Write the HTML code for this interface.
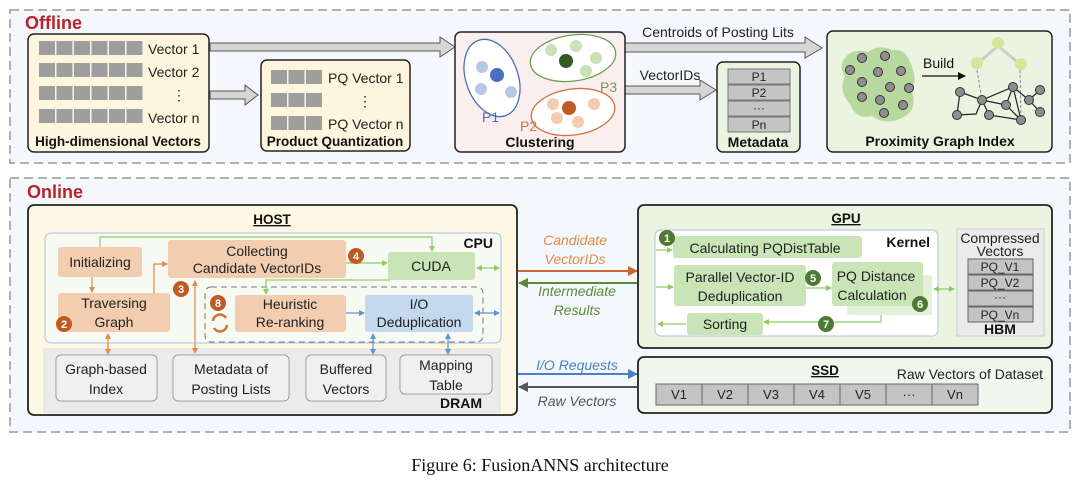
<!DOCTYPE html>
<html><head><meta charset="utf-8"><style>
html,body{margin:0;padding:0;background:#fff;width:1080px;height:488px;overflow:hidden}
svg{display:block;font-family:"Liberation Sans",sans-serif}
</style></head><body>
<svg width="1080" height="488" viewBox="0 0 1080 488" xmlns="http://www.w3.org/2000/svg">
<defs>
<marker id="ao" markerWidth="6" markerHeight="6" refX="5" refY="3" orient="auto-start-reverse" markerUnits="userSpaceOnUse"><path d="M0,0 L6,3 L0,6z" fill="#e08a4c"/></marker>
<marker id="ag" markerWidth="6" markerHeight="6" refX="5" refY="3" orient="auto-start-reverse" markerUnits="userSpaceOnUse"><path d="M0,0 L6,3 L0,6z" fill="#8fcc66"/></marker>
<marker id="ab" markerWidth="6" markerHeight="6" refX="5" refY="3" orient="auto-start-reverse" markerUnits="userSpaceOnUse"><path d="M0,0 L6,3 L0,6z" fill="#5b93d6"/></marker>
<marker id="AO" markerWidth="10" markerHeight="10" refX="9" refY="5" orient="auto-start-reverse" markerUnits="userSpaceOnUse"><path d="M0,0 L10,5 L0,10z" fill="#c9672c"/></marker>
<marker id="AG" markerWidth="10" markerHeight="10" refX="9" refY="5" orient="auto-start-reverse" markerUnits="userSpaceOnUse"><path d="M0,0 L10,5 L0,10z" fill="#5b8a3a"/></marker>
<marker id="AB" markerWidth="10" markerHeight="10" refX="9" refY="5" orient="auto-start-reverse" markerUnits="userSpaceOnUse"><path d="M0,0 L10,5 L0,10z" fill="#4a7fc8"/></marker>
<marker id="AK" markerWidth="10" markerHeight="10" refX="9" refY="5" orient="auto-start-reverse" markerUnits="userSpaceOnUse"><path d="M0,0 L10,5 L0,10z" fill="#555"/></marker>
<marker id="Ak" markerWidth="8" markerHeight="8" refX="7" refY="4" orient="auto" markerUnits="userSpaceOnUse"><path d="M0,0 L8,4 L0,8z" fill="#111"/></marker>
</defs>

<rect x="10" y="10" width="1060" height="153" fill="#f4f8fc" stroke="#999" stroke-width="1.5" stroke-dasharray="9,5"/>
<text x="25" y="29" font-size="18" font-weight="bold" fill="#b8242a">Offline</text>

<g fill="#d6d6d6" stroke="#555" stroke-width="1">
<polygon points="210,43 440,43 440,37 455,47 440,57 440,51 210,51"/>
<polygon points="210,91 245,91 245,85 258,95 245,105 245,99 210,99"/>
<polygon points="625,43 805,43 805,37 822,48 805,58 805,52 625,52"/>
<polygon points="625,86 700,86 700,80 716,90 700,100 700,94 625,94"/>
</g>

<rect x="28" y="34" width="181" height="118" rx="6" fill="#fdf5de" stroke="#222" stroke-width="1.5"/>
<g fill="#9e9e9e">
<g id="r6"><rect x="39" y="41" width="16" height="14"/><rect x="56.5" y="41" width="16" height="14"/><rect x="74" y="41" width="16" height="14"/><rect x="91.5" y="41" width="16" height="14"/><rect x="109" y="41" width="16" height="14"/><rect x="126.5" y="41" width="16" height="14"/></g>
<use href="#r6" y="22"/><use href="#r6" y="45"/><use href="#r6" y="68"/>
</g>
<g font-size="14" fill="#222"><text x="148" y="54">Vector 1</text><text x="148" y="77">Vector 2</text><text x="172" y="100">⋮</text><text x="148" y="123">Vector n</text></g>
<text x="118" y="146" font-size="13.5" font-weight="bold" text-anchor="middle" fill="#111">High-dimensional Vectors</text>

<rect x="261" y="60" width="149" height="91" rx="6" fill="#fdf5de" stroke="#222" stroke-width="1.5"/>
<g fill="#9e9e9e">
<g id="r3"><rect x="271" y="70" width="16" height="14"/><rect x="288.5" y="70" width="16" height="14"/><rect x="306" y="70" width="16" height="14"/></g>
<use href="#r3" y="23"/><use href="#r3" y="46"/>
</g>
<g font-size="14" fill="#222"><text x="328" y="83">PQ Vector 1</text><text x="358" y="106">⋮</text><text x="328" y="129">PQ Vector n</text></g>
<text x="335" y="146" font-size="13.5" font-weight="bold" text-anchor="middle" fill="#111">Product Quantization</text>

<rect x="455" y="32" width="170" height="120" rx="6" fill="#fbeeee" stroke="#222" stroke-width="1.5"/>
<ellipse cx="492" cy="78" rx="26" ry="40" transform="rotate(-20 492 78)" fill="#fff" stroke="#4a6fb8" stroke-width="1.3"/>
<g fill="#b7c7e6"><circle cx="482" cy="67" r="6"/><circle cx="481" cy="89" r="6"/><circle cx="511" cy="92" r="6"/></g><circle cx="497" cy="75" r="7" fill="#4a70c2"/>
<ellipse cx="573" cy="58" rx="43" ry="23" transform="rotate(-8 573 58)" fill="#fff" stroke="#6aa04a" stroke-width="1.3"/>
<g fill="#c8e2b6"><circle cx="551" cy="50" r="6"/><circle cx="576" cy="46" r="6"/><circle cx="596" cy="58" r="6"/><circle cx="586" cy="71" r="6"/></g><circle cx="566" cy="61" r="7" fill="#335a22"/>
<ellipse cx="573" cy="112" rx="42" ry="23" transform="rotate(-8 573 112)" fill="#fff" stroke="#d0723c" stroke-width="1.3"/>
<g fill="#f2cbb0"><circle cx="553" cy="104" r="6"/><circle cx="594" cy="104" r="6"/><circle cx="557" cy="118" r="6"/><circle cx="578" cy="122" r="6"/></g><circle cx="569" cy="108" r="7" fill="#c05a22"/>
<text x="482" y="122" font-size="14" fill="#4a6fb8">P1</text>
<text x="520" y="131" font-size="14" fill="#d0723c">P2</text>
<text x="600" y="92" font-size="14" fill="#6aa04a">P3</text>
<text x="540" y="147" font-size="14" font-weight="bold" text-anchor="middle" fill="#111">Clustering</text>

<text x="718" y="37" font-size="14" text-anchor="middle" fill="#222">Centroids of Posting Lits</text>
<text x="670" y="80" font-size="14" text-anchor="middle" fill="#222">VectorIDs</text>

<rect x="717" y="62" width="83" height="90" rx="6" fill="#eaf4e0" stroke="#222" stroke-width="1.5"/>
<g fill="#c4c4c4" stroke="#777" stroke-width="1"><rect x="728" y="69" width="62" height="15"/><rect x="728" y="85" width="62" height="15"/><rect x="728" y="101" width="62" height="15"/><rect x="728" y="117" width="62" height="15"/></g>
<g font-size="12" text-anchor="middle" fill="#222"><text x="759" y="81">P1</text><text x="759" y="97">P2</text><text x="759" y="112">···</text><text x="759" y="129">Pn</text></g>
<text x="758" y="147" font-size="14" font-weight="bold" text-anchor="middle" fill="#111">Metadata</text>

<rect x="827" y="31" width="225" height="121" rx="6" fill="#eaf4e0" stroke="#222" stroke-width="1.5"/>
<path d="M845,58 Q852,48 868,52 Q880,44 892,50 Q905,48 910,62 Q918,78 912,92 Q918,110 902,118 Q885,126 872,116 Q856,120 850,104 Q838,90 845,76 Q838,66 845,58z" fill="#b7d9a0"/>
<g fill="#8e8e8e" stroke="#333" stroke-width="1">
<circle cx="862" cy="58" r="4.5"/><circle cx="885" cy="56" r="4.5"/><circle cx="850" cy="70" r="4.5"/><circle cx="878" cy="72" r="4.5"/><circle cx="901" cy="71" r="4.5"/><circle cx="862" cy="82" r="4.5"/><circle cx="890" cy="87" r="4.5"/><circle cx="909" cy="88" r="4.5"/><circle cx="862" cy="97" r="4.5"/><circle cx="880" cy="100" r="4.5"/><circle cx="903" cy="105" r="4.5"/><circle cx="884" cy="113" r="4.5"/>
</g>
<text x="923" y="68" font-size="14" fill="#111">Build</text>
<line x1="922" y1="76" x2="965" y2="76" stroke="#111" stroke-width="1.3" marker-end="url(#Ak)"/>
<g stroke="#ccc" stroke-width="3"><line x1="978" y1="63" x2="998" y2="46"/><line x1="998" y1="46" x2="1021" y2="65"/></g>
<g stroke="#888" stroke-width="1" stroke-dasharray="3,2"><line x1="977" y1="70" x2="982" y2="100"/><line x1="1020" y1="70" x2="1021" y2="118"/></g>
<g stroke="#222" stroke-width="1.2" fill="none"><path d="M960,92 L982,100 L1013,87 L1029,100 L1040,90 M1029,100 L1040,112 M982,100 L976,114 L957,115 L960,92 M982,100 L989,115 L1021,120 L1006,105 L1013,87 M982,100 L1006,105 M1013,87 L1021,120"/></g>
<g fill="#8e8e8e" stroke="#333" stroke-width="1">
<circle cx="960" cy="92" r="4.5"/><circle cx="982" cy="100" r="4.5"/><circle cx="1013" cy="87" r="4.5"/><circle cx="1029" cy="100" r="4.5"/><circle cx="1040" cy="90" r="4.5"/><circle cx="1040" cy="112" r="4.5"/><circle cx="957" cy="115" r="4.5"/><circle cx="989" cy="115" r="4.5"/><circle cx="1006" cy="105" r="4.5"/><circle cx="1021" cy="120" r="4.5"/>
</g>
<g fill="#d4e69a"><circle cx="998" cy="43" r="6"/><circle cx="977" cy="63" r="6"/><circle cx="1021" cy="64" r="6"/></g>
<text x="940" y="146" font-size="14" font-weight="bold" text-anchor="middle" fill="#111">Proximity Graph Index</text>

<rect x="10" y="178" width="1060" height="254" fill="#f4f8fc" stroke="#999" stroke-width="1.5" stroke-dasharray="9,5"/>
<text x="27" y="198" font-size="18" font-weight="bold" fill="#b8242a">Online</text>

<rect x="28" y="205" width="489" height="210" rx="6" fill="#fdf7e4" stroke="#222" stroke-width="1.8"/>
<text x="272" y="224" font-size="13.5" font-weight="bold" text-anchor="middle" fill="#111" text-decoration="underline">HOST</text>
<rect x="45" y="233" width="456" height="110" rx="6" fill="#f7faf2" stroke="#a9c2e2" stroke-width="1"/>
<text x="493" y="248" font-size="14" font-weight="bold" text-anchor="end" fill="#111">CPU</text>
<rect x="44" y="349" width="456" height="63" fill="#ebebeb" stroke="#ddd"/>
<text x="482" y="408" font-size="14" font-weight="bold" text-anchor="end" fill="#111">DRAM</text>

<g fill="#f2cdb0">
<rect x="58" y="247" width="84" height="30" rx="3"/>
<rect x="58" y="293" width="112" height="39" rx="3"/>
<rect x="168" y="240" width="178" height="38" rx="3"/>
<rect x="235" y="295" width="111" height="37" rx="3"/>
</g>
<rect x="388" y="252" width="87" height="28" rx="3" fill="#c9e4b6"/>
<rect x="205" y="287" width="278" height="55" rx="6" fill="none" stroke="#777" stroke-dasharray="6,4"/>
<rect x="365" y="295" width="108" height="37" rx="3" fill="#c4d8ee"/>
<g font-size="14" fill="#222" text-anchor="middle">
<text x="100" y="267">Initializing</text>
<text x="114" y="308">Traversing</text><text x="114" y="327">Graph</text>
<text x="257" y="256">Collecting</text><text x="257" y="273">Candidate VectorIDs</text>
<text x="431" y="271">CUDA</text>
<text x="290" y="309">Heuristic</text><text x="290" y="327">Re-ranking</text>
<text x="419" y="309">I/O</text><text x="419" y="327">Deduplication</text>
</g>

<g fill="#fff" stroke="#999" stroke-width="1">
<rect x="56" y="355" width="101" height="46" rx="5"/><rect x="173" y="355" width="116" height="46" rx="5"/><rect x="306" y="355" width="80" height="46" rx="5"/><rect x="400" y="355" width="92" height="39" rx="5"/>
</g>
<rect x="57" y="356" width="99" height="44" rx="4" fill="#f0f0f0"/><rect x="174" y="356" width="114" height="44" rx="4" fill="#f0f0f0"/><rect x="307" y="356" width="78" height="44" rx="4" fill="#f0f0f0"/><rect x="401" y="356" width="90" height="37" rx="4" fill="#f0f0f0"/>
<g font-size="14" fill="#222" text-anchor="middle">
<text x="106" y="374">Graph-based</text><text x="106" y="394">Index</text>
<text x="231" y="374">Metadata of</text><text x="231" y="394">Posting Lists</text>
<text x="346" y="374">Buffered</text><text x="346" y="394">Vectors</text>
<text x="446" y="370">Mapping</text><text x="446" y="390">Table</text>
</g>

<g fill="none" stroke-width="1.2">
<path d="M100,247 V237 H432 V251" stroke="#8fcc66" marker-end="url(#ag)"/>
<path d="M346,263 H387" stroke="#8fcc66" marker-end="url(#ag)"/>
<path d="M390,280 H266 V294" stroke="#8fcc66" marker-end="url(#ag)"/>
<path d="M477,268 H499" stroke="#8fcc66" marker-start="url(#ag)" marker-end="url(#ag)"/>
<path d="M92,277 V292" stroke="#e08a4c" marker-end="url(#ao)"/>
<path d="M154,293 V264 H167" stroke="#e08a4c" marker-end="url(#ao)"/>
<path d="M195,281 V353" stroke="#e08a4c" marker-start="url(#ao)" marker-end="url(#ao)"/>
<path d="M108,334 V354" stroke="#e08a4c" marker-start="url(#ao)" marker-end="url(#ao)"/>
<path d="M346,313 H364" stroke="#5b93d6" marker-end="url(#ab)"/>
<path d="M475,313 H499" stroke="#5b93d6" marker-start="url(#ab)" marker-end="url(#ab)"/>
<path d="M373,334 V354" stroke="#5b93d6" marker-start="url(#ab)" marker-end="url(#ab)"/>
<path d="M448,334 V354" stroke="#5b93d6" marker-start="url(#ab)" marker-end="url(#ab)"/>
</g>
<g font-size="11" font-weight="bold" fill="#fff" text-anchor="middle">
<circle cx="356" cy="256" r="8" fill="#c05a22"/><text x="356" y="260">4</text>
<circle cx="181" cy="289" r="8" fill="#c05a22"/><text x="181" y="293">3</text>
<circle cx="64" cy="324" r="8" fill="#c05a22"/><text x="64" y="328">2</text>
<circle cx="218" cy="303" r="8" fill="#c05a22"/><text x="218" y="307">8</text>
</g>
<g fill="none" stroke="#d0723c" stroke-width="2.5"><path d="M213,321 A7,7 0 0 1 226,318"/><path d="M227,325 A7,7 0 0 1 214,328"/></g>

<g font-size="14" font-style="italic" text-anchor="middle">
<text x="575" y="245" fill="#e08a4c">Candidate</text><text x="575" y="264" fill="#e08a4c">VectorIDs</text>
<text x="577" y="296" fill="#5b8a3a">Intermediate</text><text x="577" y="315" fill="#5b8a3a">Results</text>
<text x="577" y="370" fill="#4a7fc8">I/O Requests</text><text x="577" y="406" fill="#555">Raw Vectors</text>
</g>
<g stroke-width="2">
<line x1="518" y1="271" x2="637" y2="271" stroke="#c9672c" marker-end="url(#AO)"/>
<line x1="637" y1="283" x2="519" y2="283" stroke="#5b8a3a" marker-end="url(#AG)"/>
<line x1="518" y1="374" x2="637" y2="374" stroke="#4a7fc8" marker-end="url(#AB)"/>
<line x1="637" y1="387" x2="519" y2="387" stroke="#555" marker-end="url(#AK)"/>
</g>

<rect x="638" y="205" width="414" height="143" rx="6" fill="#eaf4e0" stroke="#222" stroke-width="1.8"/>
<text x="846" y="223" font-size="13.5" font-weight="bold" text-anchor="middle" fill="#111" text-decoration="underline">GPU</text>
<rect x="655" y="230" width="283" height="106" rx="6" fill="#fff" stroke="#a9c2e2"/>
<text x="930" y="247" font-size="14" font-weight="bold" text-anchor="end" fill="#111">Kernel</text>
<g fill="#c9e4b6">
<rect x="673" y="236" width="189" height="22" rx="3"/>
<rect x="674" y="265" width="132" height="41" rx="3"/>
<rect x="847" y="275" width="85" height="40" rx="2" fill="#e3f1d8"/>
<rect x="832" y="262" width="91" height="44" rx="3"/>
<rect x="687" y="313" width="76" height="22" rx="3"/>
</g>
<g font-size="14" fill="#222" text-anchor="middle">
<text x="765" y="253">Calculating PQDistTable</text>
<text x="740" y="282">Parallel Vector-ID</text><text x="740" y="301">Deduplication</text>
<text x="876" y="281">PQ Distance</text><text x="872" y="300">Calculation</text>
<text x="725" y="329">Sorting</text>
</g>
<g fill="none" stroke="#8fcc66" stroke-width="1.2">
<path d="M656,250 H672" marker-end="url(#ag)"/>
<path d="M656,287 H673" marker-end="url(#ag)"/>
<path d="M806,288 H831" marker-end="url(#ag)"/>
<path d="M881,315 V322 H764" marker-end="url(#ag)"/>
<path d="M686,324 H658" marker-end="url(#ag)"/>
<path d="M934,289 H954" marker-start="url(#ag)" marker-end="url(#ag)"/>
</g>
<g font-size="11" font-weight="bold" fill="#fff" text-anchor="middle">
<circle cx="667" cy="238" r="8" fill="#4e7a34"/><text x="667" y="242">1</text>
<circle cx="813" cy="278" r="8" fill="#4e7a34"/><text x="813" y="282">5</text>
<circle cx="920" cy="304" r="8" fill="#4e7a34"/><text x="920" y="308">6</text>
<circle cx="826" cy="324" r="8" fill="#4e7a34"/><text x="826" y="328">7</text>
</g>
<rect x="957" y="229" width="87" height="107" fill="#ebebeb" stroke="#ccc"/>
<text x="1000" y="243" font-size="14" text-anchor="middle" fill="#222">Compressed</text>
<text x="1000" y="256" font-size="14" text-anchor="middle" fill="#222">Vectors</text>
<g fill="#c4c4c4" stroke="#666" stroke-width="1"><rect x="968" y="259" width="65" height="15"/><rect x="968" y="275" width="65" height="15"/><rect x="968" y="291" width="65" height="15"/><rect x="968" y="307" width="65" height="15"/></g>
<g font-size="12" text-anchor="middle" fill="#222"><text x="1000" y="271">PQ_V1</text><text x="1000" y="287">PQ_V2</text><text x="1000" y="301">···</text><text x="1000" y="319">PQ_Vn</text></g>
<text x="1000" y="334" font-size="14" font-weight="bold" text-anchor="middle" fill="#111">HBM</text>

<rect x="638" y="357" width="414" height="56" rx="6" fill="#f2f7ee" stroke="#222" stroke-width="1.8"/>
<text x="825" y="375" font-size="13.5" font-weight="bold" text-anchor="middle" fill="#111" text-decoration="underline">SSD</text>
<text x="1043" y="379" font-size="14" text-anchor="end" fill="#222">Raw Vectors of Dataset</text>
<g fill="#c4c4c4" stroke="#666" stroke-width="1">
<rect x="656" y="384" width="46" height="21"/><rect x="702" y="384" width="46" height="21"/><rect x="748" y="384" width="46" height="21"/><rect x="794" y="384" width="46" height="21"/><rect x="840" y="384" width="46" height="21"/><rect x="886" y="384" width="46" height="21"/><rect x="932" y="384" width="46" height="21"/>
</g>
<g font-size="13" text-anchor="middle" fill="#222"><text x="679" y="399">V1</text><text x="725" y="399">V2</text><text x="771" y="399">V3</text><text x="817" y="399">V4</text><text x="863" y="399">V5</text><text x="909" y="399">···</text><text x="955" y="399">Vn</text></g>

<text x="540" y="471" font-size="18" text-anchor="middle" fill="#111" font-family="Liberation Serif, serif">Figure 6: FusionANNS architecture</text>
</svg>
</body></html>
